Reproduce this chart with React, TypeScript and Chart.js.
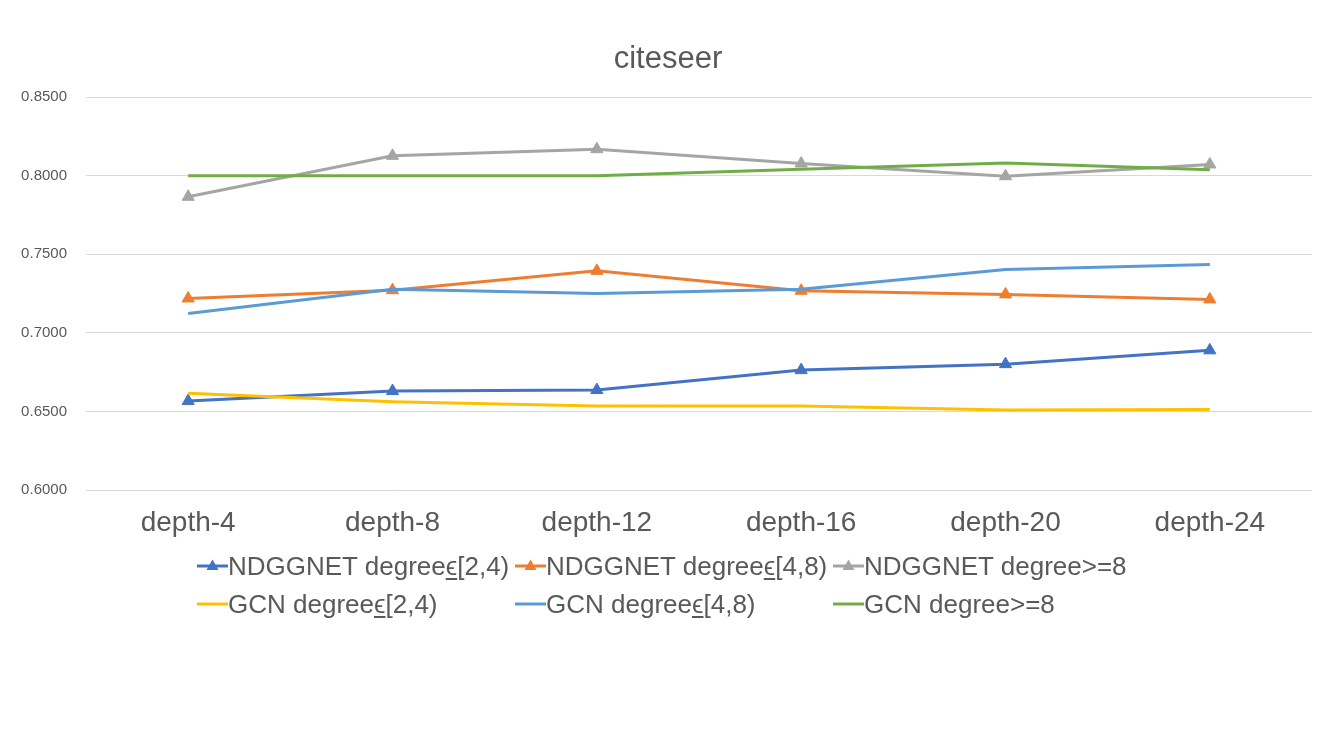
import React, { useEffect, useRef } from "react";
import { Chart, registerables } from "chart.js";

Chart.register(...registerables);

const categories = ["depth-4", "depth-8", "depth-12", "depth-16", "depth-20", "depth-24"];
const ndggDeg24 = [0.6566, 0.663, 0.6636, 0.6763, 0.6801, 0.6889];
const ndggDeg48 = [0.7219, 0.7272, 0.7395, 0.7268, 0.7245, 0.7213];
const ndggDeg8 = [0.7866, 0.8127, 0.8169, 0.8078, 0.7997, 0.8072];
const gcnDeg24 = [0.6615, 0.6562, 0.6534, 0.6534, 0.6509, 0.6513];
const gcnDeg48 = [0.7124, 0.7277, 0.7251, 0.7277, 0.7404, 0.7436];
const gcnDeg8 = [0.8, 0.8, 0.8, 0.8042, 0.8082, 0.8038];

const yTicks = [0.6, 0.65, 0.7, 0.75, 0.8, 0.85];

const EL = "\u03F5";

// legend name parts: [before, element sign (underlined) or "", after]
const seriesNames: [string, string, string][] = [
  ["NDGGNET degree", EL, "[2,4)"],
  ["NDGGNET degree", EL, "[4,8)"],
  ["NDGGNET degree>=8", "", ""],
  ["GCN degree", EL, "[2,4)"],
  ["GCN degree", EL, "[4,8)"],
  ["GCN degree>=8", "", ""],
];
const seriesData = [ndggDeg24, ndggDeg48, ndggDeg8, gcnDeg24, gcnDeg48, gcnDeg8];
const seriesColors = ["#4472C4", "#ED7D31", "#A5A5A5", "#FFC000", "#5B9BD5", "#70AD47"];
const seriesMarker = [true, true, true, false, false, false];

const FONT = "'Liberation Sans', Arial, sans-serif";
const TEXT = "#595959";

const titleShift = {
  id: "titleShift",
  afterLayout(chart: any) {
    const t = chart.titleBlock;
    if (t) {
      t.left += 24;
    }
  },
};

export default function App() {
  const ref = useRef<HTMLCanvasElement | null>(null);

  useEffect(() => {
    if (!ref.current) return;
    const chart = new Chart(ref.current, {
      type: "line",
      data: {
        labels: categories,
        datasets: seriesNames.map((parts, i) => ({
          label: parts.join(""),
          data: seriesData[i],
          borderColor: seriesColors[i],
          backgroundColor: seriesColors[i],
          borderWidth: 3,
          tension: 0,
          pointStyle: "triangle",
          pointRadius: seriesMarker[i] ? 7 : 0,
          pointHoverRadius: seriesMarker[i] ? 7 : 0,
          pointBorderWidth: 1,
          order: 10 - i,
          fill: false,
        })),
      },
      plugins: [titleShift],
      options: {
        animation: false,
        responsive: true,
        maintainAspectRatio: false,
        layout: { padding: { left: 0, right: 32, top: 0, bottom: 216 } },
        plugins: {
          legend: { display: false },
          tooltip: { enabled: false },
          title: {
            display: true,
            text: "citeseer",
            color: TEXT,
            font: { family: FONT, size: 31, weight: "normal" },
            padding: { top: 41, bottom: 19 },
          },
        },
        scales: {
          x: {
            offset: true,
            grid: { display: false, drawTicks: false },
            border: { display: false },
            ticks: {
              color: TEXT,
              font: { family: FONT, size: 28 },
              padding: 16,
              maxRotation: 0,
            },
            afterFit: (s: any) => {
              s.height = 50;
            },
          },
          y: {
            min: 0.6,
            max: 0.85,
            afterBuildTicks: (s: any) => {
              s.ticks = yTicks.map((v) => ({ value: v }));
            },
            grid: { color: "#D9D9D9", lineWidth: 1, drawTicks: false },
            border: { display: false },
            ticks: {
              color: TEXT,
              font: { family: FONT, size: 15 },
              padding: 19,
              callback: (v: any) => Number(v).toFixed(4),
            },
            afterFit: (s: any) => {
              s.width = 86;
            },
          },
        },
      },
    });
    return () => chart.destroy();
  }, []);

  return (
    <div
      style={{
        position: "fixed",
        left: 0,
        top: 0,
        width: 1344,
        height: 756,
        background: "#ffffff",
      }}
    >
      <div style={{ position: "absolute", left: 0, top: 0, width: 1344, height: 756 }}>
        <canvas ref={ref} />
      </div>
      <div
        style={{
          position: "absolute",
          left: 197,
          top: 547,
          display: "grid",
          gridTemplateColumns: "318px 318px 318px",
          gridAutoRows: "38px",
          fontFamily: FONT,
          fontSize: 26,
          color: TEXT,
        }}
      >
        {seriesNames.map((parts, i) => (
          <div
            key={parts.join("")}
            style={{ display: "flex", alignItems: "center", whiteSpace: "nowrap" }}
          >
            <svg width={31} height={20} style={{ flex: "none" }}>
              <line
                x1={0}
                y1={10}
                x2={31}
                y2={10}
                stroke={seriesColors[i]}
                strokeWidth={3}
              />
              {seriesMarker[i] && (
                <polygon
                  points="15.5,3.5 21.5,14 9.5,14"
                  fill={seriesColors[i]}
                />
              )}
            </svg>
            <span>
              {parts[0]}
              {parts[1] && (
                <span style={{ textDecoration: "underline", textUnderlineOffset: 3 }}>
                  {parts[1]}
                </span>
              )}
              {parts[2]}
            </span>
          </div>
        ))}
      </div>
    </div>
  );
}
